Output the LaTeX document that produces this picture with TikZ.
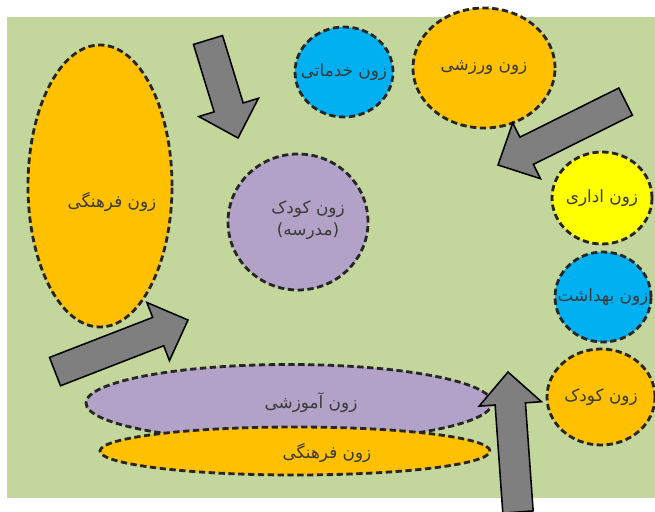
\documentclass[tikz,border=0pt]{standalone}
\usepackage{fontspec}
\newfontfamily\arabicfont[Script=Arabic]{DejaVu Sans}
\TeXXeTstate=1
\usetikzlibrary{calc,shapes.geometric}
\definecolor{zonegreen}{HTML}{C3D69B}
\definecolor{zoneorange}{HTML}{FFC000}
\definecolor{zoneblue}{HTML}{00B0F0}
\definecolor{zoneyellow}{HTML}{FFFF00}
\definecolor{zonepurple}{HTML}{B3A2C7}
\definecolor{zonegray}{HTML}{7F7F7F}
\definecolor{zonetext}{HTML}{3A3A3A}
\newcommand{\shaftw}{0.38cm}
\newcommand{\headw}{0.78cm}
\newcommand{\headlen}{0.8cm}
\newcommand{\zonearrow}[2]{%
\path ($(#2)!\headlen!(#1)$) coordinate (neck);
\draw[bigarrow] ($(#1)!\shaftw!90:(#2)$) -- ($(neck)!\shaftw!90:(#2)$)
 -- ($(neck)!\headw!90:(#2)$) -- (#2) -- ($(neck)!\headw!-90:(#2)$)
 -- ($(neck)!\shaftw!-90:(#2)$) -- ($(#1)!\shaftw!-90:(#2)$) -- cycle;
}
\tikzset{
zone/.style={ellipse, draw=black!85, line width=2pt, dash pattern=on 4.5pt off 2.5pt, inner sep=0pt},
every label/.style={text=zonetext, font=\large\arabicfont, align=center},
bigarrow/.style={fill=zonegray, draw=black, line width=1.1pt, line join=miter}
}

\begin{document}
\begin{tikzpicture}
\useasboundingbox (0,0) rectangle (16.375,-12.8);
\fill[zonegreen] (0.175,-0.425) rectangle (16.375,-12.45);

\node[zone, fill=zoneorange, minimum width=3.6cm, minimum height=7.05cm,
 label={[xshift=0.3cm,yshift=-0.4cm]center:\beginR زون فرهنگی\endR}] (culture) at (2.5,-4.65) {};
\node[zone, fill=zoneblue, minimum width=2.45cm, minimum height=2.25cm,
 label={center:\beginR زون خدماتی\endR}] (service) at (8.6,-1.8) {};
\node[zone, fill=zoneorange, minimum width=3.55cm, minimum height=3cm,
 label={center:\beginR زون ورزشی\endR}] (sport) at (12.1,-1.7) {};
\node[zone, fill=zonepurple, minimum width=3.5cm, minimum height=3.4cm,
 label={[xshift=0.25cm,yshift=0.05cm]center:\beginR زون کودک\endR\\[2pt]\beginR (مدرسه)\endR}] (school) at (7.45,-5.55) {};
\node[zone, fill=zoneyellow, minimum width=2.5cm, minimum height=2.3cm,
 label={center:\beginR زون اداری\endR}] (office) at (15.05,-4.95) {};
\node[zone, fill=zoneblue, minimum width=2.4cm, minimum height=2.25cm,
 label={center:\beginR زون بهداشت\endR}] (health) at (15.075,-7.425) {};
\node[zone, fill=zoneorange, minimum width=2.7cm, minimum height=2.4cm,
 label={center:\beginR زون کودک\endR}] (kids) at (15.025,-9.925) {};
\node[zone, fill=zonepurple, minimum width=10.15cm, minimum height=1.925cm,
 label={[xshift=0.55cm]center:\beginR زون آموزشی\endR}] (education) at (7.225,-10.075) {};
\node[zone, fill=zoneorange, minimum width=9.75cm, minimum height=1.2cm,
 label={[xshift=0.8cm,yshift=-0.05cm]center:\beginR زون فرهنگی\endR}] (culture2) at (7.375,-11.275) {};

\coordinate (a1) at (5.2,-1.0);
\coordinate (b1) at (5.95,-3.45);
\coordinate (a2) at (15.64,-2.54);
\coordinate (b2) at (12.45,-4.125);
\coordinate (a3) at (1.375,-9.29);
\coordinate (b3) at (4.7,-8.0);
\coordinate (a4) at (12.95,-12.8);
\coordinate (b4) at (12.7,-9.3);
\zonearrow{a1}{b1}
\zonearrow{a2}{b2}
\zonearrow{a3}{b3}
\zonearrow{a4}{b4}
\end{tikzpicture}
\end{document}
